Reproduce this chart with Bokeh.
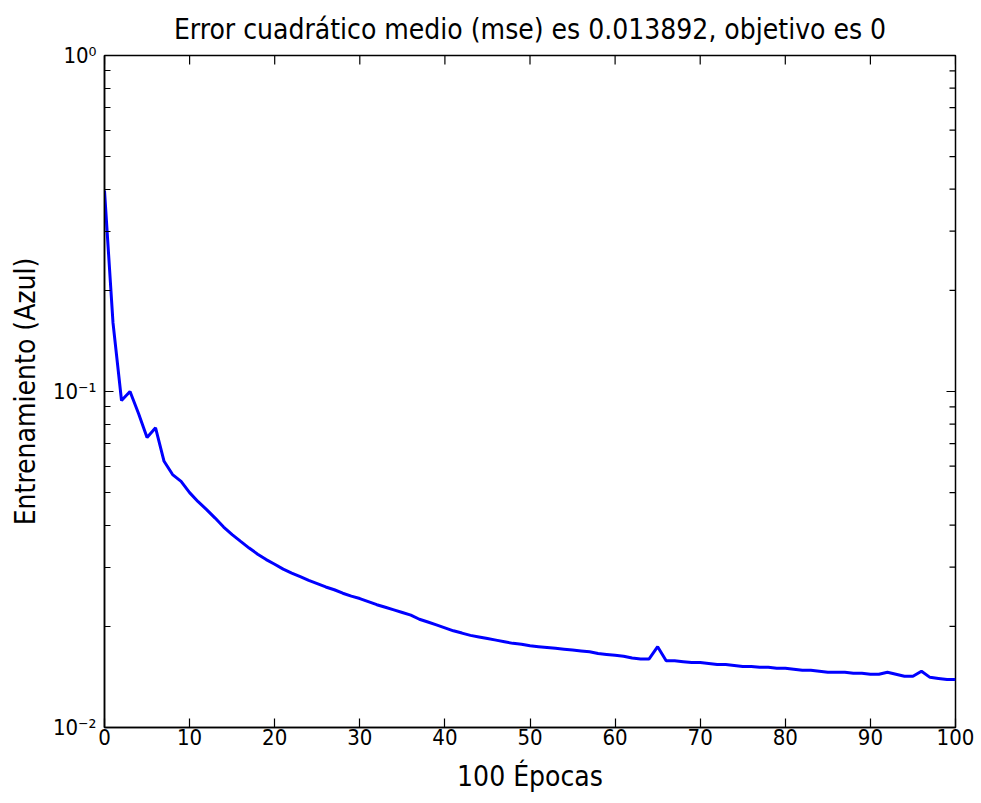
import math
from bokeh.plotting import figure
from bokeh.models import Range1d, FixedTicker, CustomJSTickFormatter
from bokeh.embed import file_html
from bokeh.resources import INLINE

# ---- data ----
epochs = list(range(0, 101))
mse = [
    0.396, 0.160, 0.094, 0.100, 0.086, 0.073, 0.078, 0.062, 0.0566, 0.054,
    0.050, 0.047, 0.0445, 0.042, 0.0395, 0.0375, 0.0358, 0.0342, 0.0328, 0.0316,
    0.0306, 0.0296, 0.0288, 0.0281, 0.0274, 0.0268, 0.0262, 0.0257, 0.0251, 0.0246,
    0.0242, 0.0237, 0.0232, 0.0228, 0.0224, 0.0220, 0.0216, 0.0210, 0.0206, 0.0202,
    0.0198, 0.0194, 0.0191, 0.0188, 0.0186, 0.0184, 0.0182, 0.0180, 0.0178, 0.0177,
    0.0175, 0.0174, 0.0173, 0.0172, 0.0171, 0.0170, 0.0169, 0.0168, 0.0166, 0.0165,
    0.0164, 0.0163, 0.0161, 0.0160, 0.0160, 0.0174, 0.0158, 0.0158, 0.0157, 0.0156,
    0.0156, 0.0155, 0.0154, 0.0154, 0.0153, 0.0152, 0.0152, 0.0151, 0.0151, 0.0150,
    0.0150, 0.0149, 0.0148, 0.0148, 0.0147, 0.0146, 0.0146, 0.0146, 0.0145, 0.0145,
    0.0144, 0.0144, 0.0146, 0.0144, 0.0142, 0.0142, 0.0147, 0.0141, 0.0140, 0.0139,
    0.013892,
]
x_min, x_max = 0, 100
y_min, y_max = 0.01, 1.0
x_ticks = [0, 10, 20, 30, 40, 50, 60, 70, 80, 90, 100]
y_major = [0.01, 0.1, 1.0]
y_minor = [0.02, 0.03, 0.04, 0.05, 0.06, 0.07, 0.08, 0.09,
           0.2, 0.3, 0.4, 0.5, 0.6, 0.7, 0.8, 0.9]
title_text = "Error cuadrático medio (mse) es 0.013892, objetivo es 0"
x_label = "100 Épocas"
y_label = "Entrenamiento (Azul)"

FONT = "DejaVu Sans Condensed, Liberation Sans, sans-serif"

p = figure(width=975, height=795, output_backend="svg", toolbar_location=None,
           y_axis_type="log", x_range=Range1d(x_min, x_max), y_range=Range1d(y_min, y_max),
           min_border_left=104, min_border_right=20, min_border_top=55, min_border_bottom=68,
           title=title_text)

p.title.text_font = FONT
p.title.text_font_size = "28px"
p.title.text_font_style = "normal"
p.title.align = "center"
p.title.text_color = "black"
p.title.standoff = 20

p.line(epochs, mse, line_color="#0000ff", line_width=3)

# inward ticks on the top and right edges (MATLAB-style box)
TL = 9
p.ray(x=x_ticks, y=[y_max] * len(x_ticks), length=TL, length_units="screen",
      angle=-math.pi / 2, line_color="black", line_width=1.2)
p.ray(x=[x_max] * len(y_major), y=y_major, length=TL, length_units="screen",
      angle=math.pi, line_color="black", line_width=1.2)
p.ray(x=[x_max] * len(y_minor), y=y_minor, length=6, length_units="screen",
      angle=math.pi, line_color="black", line_width=1.2)

p.xgrid.visible = False
p.ygrid.visible = False
p.outline_line_color = "black"
p.outline_line_width = 1.5
p.background_fill_color = "white"
p.border_fill_color = "white"

fmt = CustomJSTickFormatter(code="""
const e = Math.round(Math.log10(tick));
const sup = {'0': '\\u2070', '-1': '\\u207B\\u00B9', '-2': '\\u207B\\u00B2', '1': '\\u00B9'};
return '10' + sup[String(e)];
""")


def style(ax):
    ax.axis_line_color = "black"
    ax.axis_line_width = 1.5
    ax.major_tick_in = TL
    ax.major_tick_out = 0
    ax.minor_tick_in = 6
    ax.minor_tick_out = 0
    ax.major_tick_line_color = "black"
    ax.major_tick_line_width = 1.2
    ax.minor_tick_line_color = "black"
    ax.minor_tick_line_width = 1.2
    ax.major_label_text_font = FONT
    ax.major_label_text_font_size = "22px"
    ax.major_label_text_color = "black"
    ax.axis_label_text_font = FONT
    ax.axis_label_text_font_size = "28px"
    ax.axis_label_text_font_style = "normal"
    ax.axis_label_text_color = "black"


xa = p.xaxis[0]
xa.ticker = FixedTicker(ticks=x_ticks)
xa.axis_label = x_label
style(xa)
xa.minor_tick_in = 0
xa.major_label_standoff = 1
xa.axis_label_standoff = 12

ya = p.yaxis[0]
ya.ticker = FixedTicker(ticks=y_major, minor_ticks=y_minor)
ya.formatter = fmt
ya.axis_label = y_label
style(ya)
ya.major_label_standoff = 8
ya.axis_label_standoff = 8

open("out.html", "w").write(file_html(p, INLINE))
